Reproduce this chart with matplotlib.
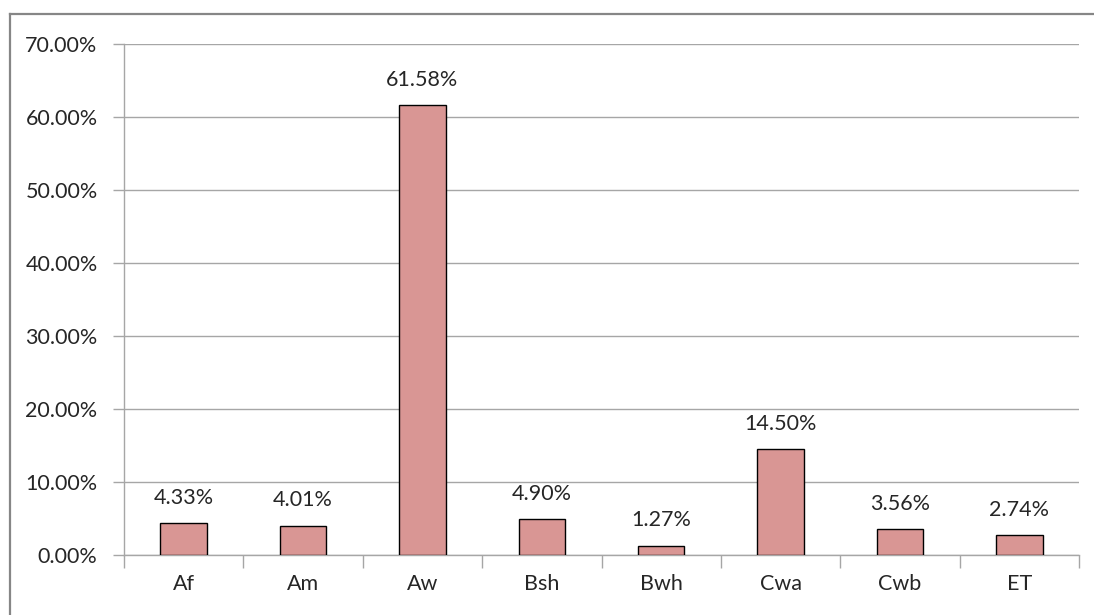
import matplotlib.pyplot as plt
import numpy as np
from matplotlib.lines import Line2D
from matplotlib.ticker import FuncFormatter

# -----------------------------
# DATA
# -----------------------------
climate_classes = ["Af", "Am", "Aw", "Bsh", "Bwh", "Cwa", "Cwb", "ET"]
share_percent = [4.33, 4.01, 61.58, 4.90, 1.27, 14.50, 3.56, 2.74]
y_tick_values = [0, 10, 20, 30, 40, 50, 60, 70]

plt.rcParams['font.family'] = ['Lato', 'DejaVu Sans']
text_color = "#262626"
grid_color = "#A6A6A6"

figure_handle = plt.figure(figsize=(10.94, 6.15), dpi=100)
axis_handle = figure_handle.add_axes([124 / 1094, 1 - 555 / 615,
                                      (1079 - 124) / 1094, (555 - 44) / 615])

# outer chart border (only top and left edges fall inside the picture)
border_y = 1 - 13.5 / 615
border_x = 9.5 / 1094
figure_handle.lines.append(Line2D([border_x, 1.0], [border_y, border_y],
                                  transform=figure_handle.transFigure,
                                  color="#868686", linewidth=1.6))
figure_handle.lines.append(Line2D([border_x, border_x], [0.0, border_y],
                                  transform=figure_handle.transFigure,
                                  color="#868686", linewidth=1.6))

x_positions = np.arange(len(climate_classes))
axis_handle.bar(x_positions, share_percent, width=0.39,
                color="#D99694", edgecolor="black", linewidth=1.0, zorder=3)

for x_value, y_value in zip(x_positions, share_percent):
    axis_handle.text(x_value, y_value + 2.1, f"{y_value:.2f}%", ha="center", va="bottom",
                     fontsize=15.5, color=text_color)

axis_handle.set_xlim(-0.5, len(climate_classes) - 0.5)
axis_handle.set_ylim(0, 70)
axis_handle.set_yticks(y_tick_values)
axis_handle.yaxis.set_major_formatter(FuncFormatter(lambda v, p: f"{v:.2f}%"))
axis_handle.grid(axis="y", color=grid_color, linewidth=1.0, zorder=0)

# category labels between boundary ticks
axis_handle.set_xticks(np.arange(len(climate_classes) + 1) - 0.5)
axis_handle.set_xticklabels([])
axis_handle.set_xticks(x_positions, minor=True)
axis_handle.set_xticklabels(climate_classes, minor=True)
axis_handle.tick_params(axis="x", which="major", length=9, color=grid_color, width=1.0)
axis_handle.tick_params(axis="x", which="minor", length=0, pad=14, labelsize=15.5,
                        labelcolor=text_color)
axis_handle.tick_params(axis="y", length=8, color=grid_color, width=1.0, labelsize=15.5,
                        labelcolor=text_color, pad=11)

for side in ["top", "right"]:
    axis_handle.spines[side].set_visible(False)
for side in ["left", "bottom"]:
    axis_handle.spines[side].set_color(grid_color)
    axis_handle.spines[side].set_linewidth(1.0)

figure_handle.savefig("out.png", dpi=100)
